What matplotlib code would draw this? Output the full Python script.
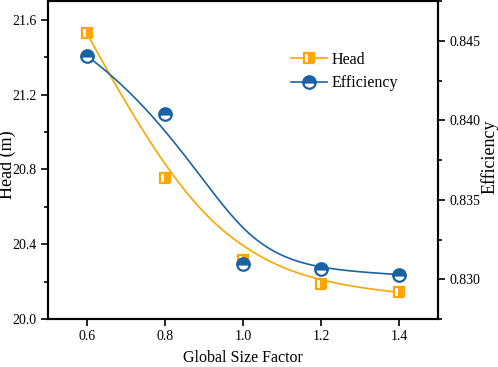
import numpy as np
import matplotlib
matplotlib.use('Agg')
from matplotlib import pyplot as plt
from matplotlib.ticker import MultipleLocator, FormatStrFormatter

plt.rcParams['font.family'] = ['Liberation Serif', 'DejaVu Serif']

size_factor = [0.6, 0.8, 1.0, 1.2, 1.4]
head = [21.527, 20.754, 20.315, 20.188, 20.142]
efficiency = [0.84404, 0.84038, 0.83099, 0.83062, 0.83029]

orange = '#FFA500'
blue = '#1B62A3'


def bspline(xs, ys, n=200):
	# clamped cubic B-spline with the data points as control points
	pts = np.column_stack([xs, ys])
	k = 3
	m = len(pts)
	knots = np.concatenate([np.zeros(k), np.linspace(0, 1, m - k + 1), np.ones(k)])
	t = np.linspace(0, 1, n)
	t[-1] = 1 - 1e-9

	def basis(i, p, u):
		if p == 0:
			return ((knots[i] <= u) & (u < knots[i + 1])).astype(float)
		a = 0.0
		b = 0.0
		if knots[i + p] != knots[i]:
			a = (u - knots[i]) / (knots[i + p] - knots[i]) * basis(i, p - 1, u)
		if knots[i + p + 1] != knots[i + 1]:
			b = (knots[i + p + 1] - u) / (knots[i + p + 1] - knots[i + 1]) * basis(i + 1, p - 1, u)
		return a + b

	curve = np.zeros((n, 2))
	for i in range(m):
		curve += basis(i, k, t)[:, None] * pts[i]
	return curve[:, 0], curve[:, 1]


fig = plt.figure(figsize=(4.98, 3.67), dpi=100)
ax = fig.add_axes([48 / 498, 1 - 319 / 367, 390 / 498, 318 / 367])
ax2 = ax.twinx()

hx, hy = bspline(size_factor, head)
ex, ey = bspline(size_factor, efficiency)

sq = dict(marker='s', ms=7.5, fillstyle='right', mfc=orange, mfcalt='white', mec=orange, mew=1.6)
ci = dict(marker='o', ms=9, fillstyle='top', mfc=blue, mfcalt='white', mec=blue, mew=1.6)

ax.plot(hx, hy, color=orange, lw=1.2)
ax.plot(size_factor, head, ls='none', **sq)
ax2.plot(ex, ey, color=blue, lw=1.2)
ax2.plot(size_factor, efficiency, ls='none', **ci)

# legend handles
h1, = ax.plot([], [], color=orange, lw=1.2, label='Head', **sq)
h2, = ax.plot([], [], color=blue, lw=1.2, label='Efficiency', **ci)
ax.legend(handles=[h1, h2], loc='upper left', bbox_to_anchor=(0.585, 0.885),
	frameon=False, fontsize=11.5, handlelength=2.3, handletextpad=0.3, labelspacing=0.45)

ax.set_xlim(0.5, 1.5)
ax.set_ylim(20.0, 21.7)
ax2.set_ylim(0.8275, 0.8475)

ax.set_xticks([0.6, 0.8, 1.0, 1.2, 1.4])
ax.yaxis.set_major_locator(MultipleLocator(0.4))
ax.yaxis.set_minor_locator(MultipleLocator(0.2))
ax.yaxis.set_major_formatter(FormatStrFormatter('%.1f'))
ax2.yaxis.set_major_locator(MultipleLocator(0.005))
ax2.yaxis.set_minor_locator(MultipleLocator(0.0025))
ax2.yaxis.set_major_formatter(FormatStrFormatter('%.3f'))

for a in (ax, ax2):
	for s in a.spines.values():
		s.set_linewidth(1.5)
	a.tick_params(which='major', direction='out', length=5, width=1.2, labelsize=10, pad=3)
	a.tick_params(which='minor', direction='out', length=3, width=1.2)

ax.set_xlabel('Global Size Factor', fontsize=11.5, labelpad=5)
ax.set_ylabel('Head (m)', fontsize=13)
ax2.set_ylabel('Efficiency', fontsize=13)
ax.yaxis.set_label_coords(-0.082, 0.485)
ax2.yaxis.set_label_coords(1.11, 0.51)

fig.savefig('out.png', dpi=100)
